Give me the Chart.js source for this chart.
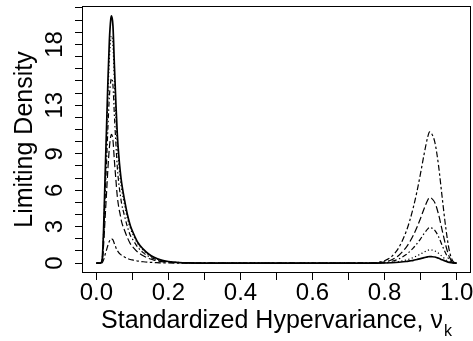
<!DOCTYPE html>
<html>
<head>
<meta charset="utf-8">
<script src="https://cdn.jsdelivr.net/npm/chart.js@4/dist/chart.umd.min.js"></script>
<style>
  html, body { margin: 0; padding: 0; background: #fff; }
  #c { display: block; }
</style>
</head>
<body>
<canvas id="c" width="473" height="341"></canvas>
<script>
// ---- data ----
const xs = [0, 0.005, 0.010, 0.013, 0.016, 0.020, 0.024, 0.028, 0.032, 0.036,
  0.040, 0.042, 0.046, 0.050, 0.054, 0.058, 0.062, 0.066, 0.070, 0.078,
  0.086, 0.094, 0.102, 0.115, 0.130, 0.145, 0.160, 0.180, 0.200, 0.230,
  0.260, 0.300, 0.400, 0.500, 0.600, 0.700, 0.760, 0.780, 0.800, 0.820,
  0.840, 0.860, 0.870, 0.880, 0.890, 0.900, 0.910, 0.920, 0.925, 0.930,
  0.940, 0.950, 0.960, 0.970, 0.980, 0.990, 1.000];

const solidSeries = [0, 0, 0, 0.05, 0.3, 2.8, 7.0, 11.0, 15.0, 18.3,
  20.1, 20.35, 19.5, 16.2, 13.2, 10.6, 8.9, 7.6, 6.6, 5.2,
  4.0, 3.1, 2.5, 1.7, 1.15, 0.75, 0.48, 0.25, 0.13, 0.05,
  0.02, 0, 0, 0, 0, 0, 0, 0, 0.01, 0.03,
  0.07, 0.13, 0.18, 0.23, 0.30, 0.37, 0.45, 0.52, 0.54, 0.53,
  0.50, 0.40, 0.27, 0.15, 0.05, 0.01, 0];

const dottedSeries = [0, 0, 0, 0.05, 0.28, 2.6, 6.4, 10.1, 13.8, 16.8,
  18.5, 18.7, 17.9, 14.9, 12.1, 9.8, 8.2, 7.0, 6.1, 4.8,
  3.7, 2.9, 2.3, 1.6, 1.06, 0.69, 0.44, 0.23, 0.12, 0.05,
  0.02, 0, 0, 0, 0, 0, 0, 0.01, 0.02, 0.06,
  0.13, 0.26, 0.35, 0.46, 0.60, 0.75, 0.91, 1.05, 1.09, 1.08,
  1.00, 0.81, 0.55, 0.29, 0.10, 0.02, 0];

const dashDotSeries = [0, 0, 0, 0.04, 0.22, 2.1, 5.2, 8.2, 11.2, 13.7,
  15.0, 15.2, 14.6, 12.1, 9.9, 7.9, 6.6, 5.7, 4.9, 3.9,
  3.0, 2.3, 1.9, 1.3, 0.86, 0.56, 0.36, 0.19, 0.10, 0.04,
  0.01, 0, 0, 0, 0, 0, 0, 0.01, 0.05, 0.15,
  0.35, 0.70, 0.95, 1.25, 1.60, 2.00, 2.44, 2.82, 2.93, 2.90,
  2.68, 2.17, 1.46, 0.79, 0.27, 0.04, 0];

const longDashSeries = [0, 0, 0, 0.03, 0.16, 1.5, 3.6, 5.7, 7.8, 9.5,
  10.45, 10.6, 10.1, 8.4, 6.9, 5.5, 4.6, 4.0, 3.4, 2.7,
  2.1, 1.6, 1.3, 0.9, 0.6, 0.39, 0.25, 0.13, 0.07, 0.03,
  0.01, 0, 0, 0, 0, 0, 0, 0.03, 0.10, 0.28,
  0.65, 1.30, 1.75, 2.30, 2.95, 3.70, 4.50, 5.20, 5.40, 5.35,
  4.95, 4.00, 2.70, 1.45, 0.50, 0.08, 0];

const twoDashSeries = [0, 0, 0, 0.005, 0.03, 0.27, 0.69, 1.08, 1.47, 1.8,
  1.97, 2.0, 1.91, 1.59, 1.29, 1.04, 0.87, 0.74, 0.65, 0.51,
  0.39, 0.30, 0.25, 0.17, 0.11, 0.07, 0.05, 0.02, 0.01, 0.005,
  0, 0, 0, 0, 0, 0, 0, 0.05, 0.20, 0.55,
  1.30, 2.60, 3.50, 4.60, 5.90, 7.40, 9.00, 10.40, 10.80, 10.70,
  9.90, 8.00, 5.40, 2.90, 1.00, 0.15, 0];

const xTickValues = [0, 0.1, 0.2, 0.3, 0.4, 0.5, 0.6, 0.7, 0.8, 0.9, 1.0];
const xLabelValues = [0, 0.2, 0.4, 0.6, 0.8, 1.0];
const xLabelTexts = ['0.0', '0.2', '0.4', '0.6', '0.8', '1.0'];
const yTickValues = [0, 1, 2, 3, 4, 5, 6, 7, 8, 9, 10, 11, 12, 13, 14, 15, 16, 17, 18, 19, 20, 21];
const yLabelValues = [0, 3, 6, 9, 13, 18];
const yLabelTexts = ['0', '3', '6', '9', '13', '18'];
const xTitleMain = 'Standardized Hypervariance, \u03BD';
const xTitleSub = 'k';
const yTitle = 'Limiting Density';

// ---- chart ----
const FONT = '"Liberation Sans", Arial, Helvetica, sans-serif';
function pts(arr) { return xs.map((x, i) => ({ x: x, y: arr[i] })); }

const series = [
  { data: solidSeries, dash: [], width: 1.7 },
  { data: dottedSeries, dash: [1.2, 2.4], width: 1.2 },
  { data: dashDotSeries, dash: [5, 2.5, 1.5, 2.5], width: 1.2 },
  { data: longDashSeries, dash: [7, 3], width: 1.2 },
  { data: twoDashSeries, dash: [2.5, 2.5, 6, 2.5], width: 1.2 }
];

const textPlugin = {
  id: 'rtext',
  afterDraw(chart) {
    const ctx = chart.ctx;
    const a = chart.chartArea;
    const xs_ = chart.scales.x, ys_ = chart.scales.y;
    ctx.save();
    // box
    ctx.strokeStyle = '#000';
    ctx.lineWidth = 1;
    ctx.strokeRect(Math.round(a.left) + 0.5, Math.round(a.top) + 0.5,
      Math.round(a.right - a.left) - 1, Math.round(a.bottom - a.top) - 1);
    ctx.fillStyle = '#000';
    // x tick labels
    ctx.font = '24px ' + FONT;
    ctx.textAlign = 'center';
    ctx.textBaseline = 'alphabetic';
    xLabelValues.forEach((v, i) => {
      ctx.fillText(xLabelTexts[i], xs_.getPixelForValue(v), 300);
    });
    // y tick labels (rotated)
    yLabelValues.forEach((v, i) => {
      ctx.save();
      ctx.translate(62, ys_.getPixelForValue(v));
      ctx.rotate(-Math.PI / 2);
      ctx.fillText(yLabelTexts[i], 0, 0);
      ctx.restore();
    });
    // y title
    ctx.font = '25px ' + FONT;
    ctx.save();
    ctx.translate(32, (a.top + a.bottom) / 2);
    ctx.rotate(-Math.PI / 2);
    ctx.fillText(yTitle, 0, 0);
    ctx.restore();
    // x title with subscript
    ctx.textAlign = 'left';
    const wMain = ctx.measureText(xTitleMain).width;
    ctx.font = '16px ' + FONT;
    const wSub = ctx.measureText(xTitleSub).width;
    const cx = (a.left + a.right) / 2;
    const x0 = cx - (wMain + wSub + 1) / 2;
    ctx.font = '25px ' + FONT;
    ctx.fillText(xTitleMain, x0, 328);
    ctx.font = '16px ' + FONT;
    ctx.fillText(xTitleSub, x0 + wMain + 1, 336);
    ctx.restore();
  }
};

new Chart(document.getElementById('c'), {
  type: 'line',
  data: {
    datasets: series.map(s => ({
      data: pts(s.data),
      borderColor: '#000',
      borderWidth: s.width,
      borderDash: s.dash,
      borderCapStyle: 'butt',
      fill: false,
      pointRadius: 0,
      cubicInterpolationMode: 'monotone'
    }))
  },
  options: {
    responsive: false,
    devicePixelRatio: 1,
    animation: false,
    events: [],
    layout: { padding: { left: 0, top: 6, right: 2, bottom: 0 } },
    plugins: { legend: { display: false }, tooltip: { enabled: false } },
    scales: {
      x: {
        type: 'linear',
        min: -0.04,
        max: 1.04,
        afterBuildTicks: s => { s.ticks = xTickValues.map(v => ({ value: v })); },
        afterFit: s => { s.height = 68; },
        ticks: { display: false },
        border: { display: false },
        grid: { drawOnChartArea: false, drawTicks: true, tickLength: 7, color: '#000', lineWidth: 1 }
      },
      y: {
        type: 'linear',
        min: -0.814,
        max: 21.164,
        afterBuildTicks: s => { s.ticks = yTickValues.map(v => ({ value: v })); },
        afterFit: s => { s.width = 82; },
        ticks: { display: false },
        border: { display: false },
        grid: { drawOnChartArea: false, drawTicks: true, tickLength: 7, color: '#000', lineWidth: 1 }
      }
    }
  },
  plugins: [textPlugin]
});
</script>
</body>
</html>
